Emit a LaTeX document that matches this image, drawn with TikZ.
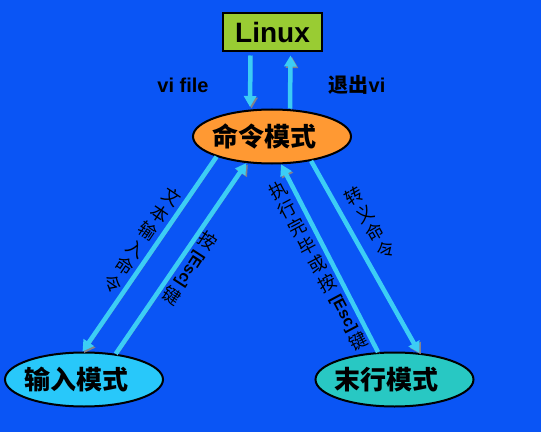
\documentclass[tikz,border=0pt]{standalone}
\usepackage{fontspec}
\setmainfont{Liberation Sans}
\newfontfamily\cjk{Noto Sans CJK SC}
\usepackage{tikz}
\usetikzlibrary{shapes.geometric,arrows.meta,positioning}
\definecolor{screenblue}{RGB}{10, 85, 245}
\definecolor{linuxgreen}{RGB}{153, 204, 51}
\definecolor{cmdorange}{RGB}{255, 153, 51}
\definecolor{inputcyan}{RGB}{40, 200, 250}
\definecolor{lastteal}{RGB}{40, 200, 195}
\definecolor{flowcyan}{RGB}{60, 205, 245}
\definecolor{flowshadow}{RGB}{130, 130, 140}
\newcommand{\esckey}{\smash{\raisebox{13pt}{\rotatebox{-90}{\normalfont\bfseries\fontsize{16}{18}\selectfont[Esc]}}}}

\begin{document}
\begin{tikzpicture}[x=1pt,y=1pt,
    mode/.style={ellipse,draw=black,line width=2pt,minimum width=158pt,minimum height=54pt,inner sep=0pt,font=\cjk\bfseries\fontsize{26}{30}\selectfont},
    flow/.style={line width=4.5pt,draw=flowcyan,-{Triangle[width=12pt,length=11pt]},
        preaction={draw=flowshadow,transform canvas={shift={(1.5pt,-1.5pt)}}}},
    colnote/.style={font=\cjk\fontsize{18}{21}\selectfont,align=center,inner sep=0pt},
    keynote/.style={font=\bfseries\fontsize{20}{24}\selectfont}]
    % screen background
    \fill[screenblue] (0,0) rectangle (541,432);
    \useasboundingbox (0,0) rectangle (541,432);

    % the shell and the three modes
    \node[draw=black,line width=2pt,fill=linuxgreen,minimum width=99pt,minimum height=38pt,font=\bfseries\fontsize{28}{32}\selectfont] (linux) at (272.5,399.5) {Linux};
    \node[mode,fill=cmdorange] (cmd) at (272,295.5) {\makebox[0pt]{命令模式\hspace*{16pt}}};
    \node[mode,fill=inputcyan] (input) at (84,52.5) {\makebox[0pt]{输入模式\hspace*{16pt}}};
    \node[mode,fill=lastteal] (lastline) at (394.5,52.5) {\makebox[0pt]{末行模式\hspace*{16pt}}};

    % Linux <-> command mode
    \draw[flow] ([xshift=-22pt,yshift=-3pt]linux.south) -- ([xshift=-22pt,yshift=1.5pt]cmd.north);
    \draw[flow] ([xshift=18pt]cmd.north) -- ([xshift=18pt,yshift=-3pt]linux.south);
    \node[keynote] (vifile) at (183,347) {vi file};
    \node[keynote] (quitvi) at (357,347) {{\cjk 退出}vi};

    % command mode <-> input mode
    \draw[flow] (cmd.200) -- (input.93);
    \draw[flow] (input.39) -- (cmd.226);
    \node[colnote,rotate=-34] (textin) at (142,192) {文\\本\\输\\入\\命\\令};
    \node[colnote,rotate=-33] (escleft) at (190,164) {按\\\esckey\\[24pt]键};

    % command mode <-> last line mode
    \draw[flow] (lastline.121) -- (cmd.288);
    \draw[flow] (cmd.328) -- (lastline.47);
    \node[colnote,rotate=28] (escright) at (318,166) {执\\行\\完\\毕\\或\\按\\\esckey\\[24pt]键};
    \node[colnote,rotate=30] (escape) at (370,209) {转\\义\\命\\令};
\end{tikzpicture}
\end{document}
